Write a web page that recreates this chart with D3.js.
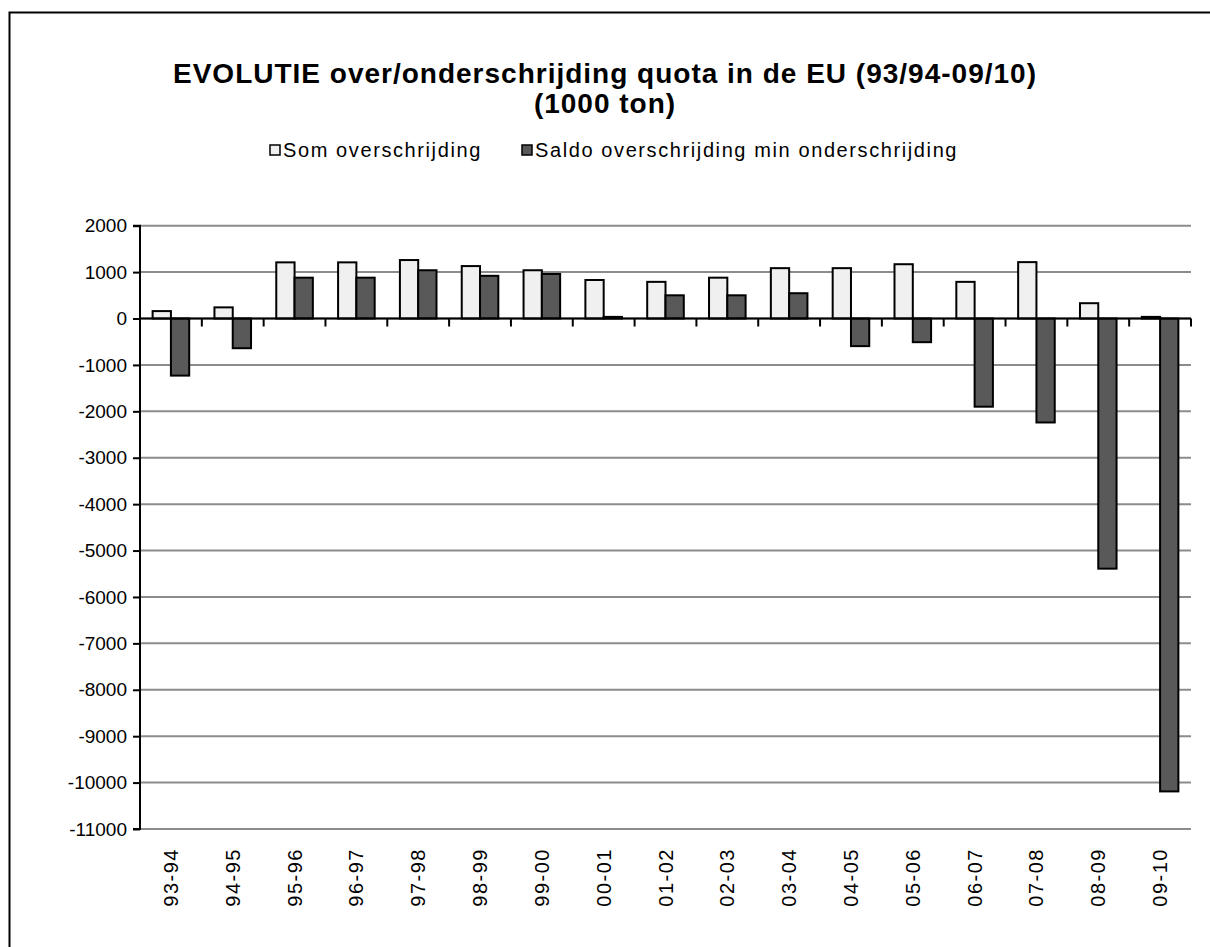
<!DOCTYPE html>
<html>
<head>
<meta charset="utf-8">
<script src="https://cdn.jsdelivr.net/npm/d3@7/dist/d3.min.js"></script>
<style>
  html, body { margin: 0; padding: 0; background: #fff; }
  svg { display: block; font-family: "Liberation Sans", Arial, sans-serif; }
</style>
</head>
<body>
<svg id="chart" width="1210" height="947"></svg>
<script>
const categories = ["93-94","94-95","95-96","96-97","97-98","98-99","99-00","00-01","01-02","02-03","03-04","04-05","05-06","06-07","07-08","08-09","09-10"];
const seriesNames = ["Som overschrijding", "Saldo overschrijding min onderschrijding"];
const somOverschrijding = [160, 240, 1210, 1210, 1260, 1130, 1040, 830, 790, 880, 1085, 1085, 1170, 790, 1215, 330, 35];
const saldo = [-1230, -640, 880, 880, 1040, 920, 960, 35, 500, 500, 545, -595, -510, -1900, -2240, -5390, -10190];
const yTicks = [2000, 1000, 0, -1000, -2000, -3000, -4000, -5000, -6000, -7000, -8000, -9000, -10000, -11000];
const titleLines = ["EVOLUTIE over/onderschrijding quota in de EU (93/94-09/10)", "(1000 ton)"];

(function () {
const colors = ["#f0f0f0", "#595959"];
const svg = d3.select("#chart");

// outer frame (cut off at right/bottom like the reference)
svg.append("rect").attr("x", 9.5).attr("y", 12.5).attr("width", 1230).attr("height", 960)
  .attr("fill", "#fff").attr("stroke", "#000").attr("stroke-width", 2);

const pL = 140, pR = 1191, pT = 225.7, pB = 829;
const y = d3.scaleLinear().domain([-11000, 2000]).range([pB, pT]);
const x0 = d3.scaleBand().domain(categories).range([pL, pR]).padding(0);
const x1 = d3.scaleBand().domain(seriesNames).range([0, x0.bandwidth()]).paddingInner(0).paddingOuter(0.69);

// gridlines
svg.append("g").selectAll("line").data(yTicks).join("line")
  .attr("x1", pL).attr("x2", pR)
  .attr("y1", d => y(d)).attr("y2", d => y(d))
  .attr("stroke", "#8c8c8c").attr("stroke-width", 2);

// bars
const rows = categories.map((c, i) => ({ c, vals: [somOverschrijding[i], saldo[i]] }));
const groups = svg.append("g").selectAll("g").data(rows).join("g")
  .attr("transform", d => `translate(${x0(d.c)},0)`);
groups.selectAll("rect").data(d => d.vals.map((v, k) => ({ v, k }))).join("rect")
  .attr("x", d => x1(seriesNames[d.k]))
  .attr("width", x1.bandwidth())
  .attr("y", d => y(Math.max(0, d.v)))
  .attr("height", d => Math.abs(y(d.v) - y(0)))
  .attr("fill", d => colors[d.k])
  .attr("stroke", "#000").attr("stroke-width", 2);

// y axis
const yAxis = d3.axisLeft(y).tickValues(yTicks).tickSize(7).tickPadding(6).tickFormat(d3.format("d"));
const gy = svg.append("g").attr("transform", `translate(${pL},0)`).call(yAxis);
gy.select(".domain").attr("stroke", "#000").attr("stroke-width", 2).attr("d", `M-7,${pT}H0V${pB}H-7`);
gy.selectAll(".tick line").attr("stroke", "#000").attr("stroke-width", 2);
gy.selectAll(".tick text").attr("font-size", 19).attr("fill", "#000")
  .attr("font-family", "Liberation Sans, Arial, sans-serif").text(d => d < 0 ? "-" + Math.abs(d) : d);

// x axis at zero line with boundary ticks
const gx = svg.append("g").attr("transform", `translate(0,${y(0)})`);
gx.append("line").attr("x1", pL).attr("x2", pR).attr("y1", 0).attr("y2", 0)
  .attr("stroke", "#000").attr("stroke-width", 2);
const bounds = categories.map(c => x0(c) + x0.bandwidth());
gx.selectAll("line.tk").data(bounds).join("line").attr("class", "tk")
  .attr("x1", d => d).attr("x2", d => d).attr("y1", 0).attr("y2", 8)
  .attr("stroke", "#000").attr("stroke-width", 2);

// category labels (rotated)
svg.append("g").selectAll("text").data(categories).join("text")
  .attr("transform", d => `translate(${x0(d) + x0.bandwidth() / 2 + 7},848) rotate(-90)`)
  .attr("text-anchor", "end")
  .attr("font-size", 20)
  .attr("letter-spacing", 1.5)
  .attr("fill", "#000")
  .text(d => d);

// title
svg.append("g").selectAll("text").data(titleLines).join("text")
  .attr("x", 605).attr("y", (d, i) => 83 + i * 30)
  .attr("text-anchor", "middle")
  .attr("font-size", 28).attr("font-weight", "bold").attr("letter-spacing", 1).attr("fill", "#000")
  .text(d => d);

// legend
const legendX = [270, 522];
const lg = svg.append("g").selectAll("g").data(seriesNames).join("g")
  .attr("transform", (d, i) => `translate(${legendX[i]},145)`);
lg.append("rect").attr("x", 0).attr("y", 0).attr("width", 10).attr("height", 10)
  .attr("fill", (d, i) => colors[i]).attr("stroke", "#000").attr("stroke-width", 1.5);
lg.append("text").attr("x", 13).attr("y", 12)
  .attr("font-size", 20).attr("letter-spacing", 1.6).attr("fill", "#000")
  .text(d => d);
})();
</script>
</body>
</html>
